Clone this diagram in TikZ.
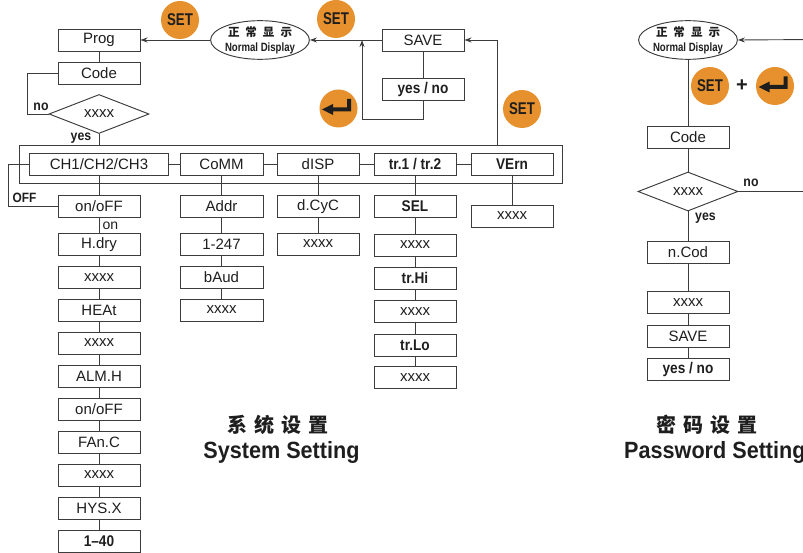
\documentclass[tikz,border=0pt]{standalone}
\usepackage{fontspec}
\setmainfont{Liberation Sans}
\newfontfamily\cjk{Noto Sans CJK SC}
\newfontfamily\cb{Liberation Sans}[FakeStretch=0.88]
\newfontfamily\cbb{Liberation Sans}[FakeStretch=0.78]
\newfontfamily\cbn{Liberation Sans}[FakeStretch=0.8]
\newfontfamily\ttl{Liberation Sans}[FakeStretch=0.92]
\usetikzlibrary{shapes.geometric,arrows.meta}
\definecolor{org}{RGB}{230,145,45}
\definecolor{boxc}{RGB}{60,60,60}
\definecolor{txt}{RGB}{30,30,30}
\begin{document}
\begin{tikzpicture}[x=1pt,y=-1pt,
 box/.style={draw=boxc,line width=0.95pt,minimum width=82pt,minimum height=22pt,inner sep=0pt,text=txt,font=\fontsize{15}{15}\selectfont},
 bbox/.style={box,font=\fontsize{15.5}{15}\selectfont\cb\bfseries},
 conn/.style={draw=boxc,line width=0.9pt},
 arr/.style={conn,-{Stealth[length=7pt,width=5pt]}},
 btn/.style={circle,fill=org,minimum size=38pt,inner sep=0pt,text=txt,font=\fontsize{17}{17}\selectfont\cbb\bfseries},
 lbl/.style={inner sep=0pt,text=txt,font=\fontsize{14}{14}\selectfont\cb\bfseries},
 disp/.style={ellipse,draw=boxc,line width=0.95pt,minimum width=97pt,minimum height=38pt,inner sep=0pt,align=center,text=txt,font=\fontsize{12}{15}\selectfont},
 dec/.style={diamond,aspect=3,draw=boxc,line width=0.95pt,minimum width=100pt,minimum height=39pt,inner sep=0pt,text=txt,font=\fontsize{15}{15}\selectfont},
 ttlc/.style={inner sep=0pt,text=txt,font=\fontsize{20}{20}\selectfont\cjk\bfseries},
 ttle/.style={inner sep=0pt,text=txt,font=\fontsize{23.5}{24}\selectfont\ttl\bfseries},
 enter/.pic={\fill[txt] (-16.5,1) -- (-5.5,-4.5) -- (-5.5,-1) -- (8.5,-1) -- (8.5,-9.5) -- (12.5,-9.5) -- (12.5,3) -- (-5.5,3) -- (-5.5,6.5) -- cycle;}
]
\useasboundingbox (0,0) rectangle (803,553);

% ---------- System setting: top ----------
\node[btn] (set1) at (180,20) {SET};
\node[disp] (nd1) at (260,40) {{\fontsize{11.5}{11.5}\selectfont\cjk\bfseries 正\hspace{6pt}常\hspace{6pt}显\hspace{6pt}示}\\{\cbn\bfseries Normal Display}};
\node[box] (prog) at (99,40) {Prog};
\node[box] (code) at (99,73.5) {Code};
\node[dec] (dia) at (99,114) {xxxx};
\node[lbl] (no1) at (41,107) {no};
\node[lbl] (yes1) at (81,138) {yes};
\node[btn] (set2) at (336,19) {SET};
\node[box] (save) at (423,40) {SAVE};
\node[bbox] (yn) at (423,89.5) {yes / no};
\node[btn] (ent1) at (338.5,108.5) {};
\pic at (ent1) {enter};
\node[btn] (set3) at (522,109) {SET};

% ---------- frame and menu ----------
\node[draw=boxc,line width=0.95pt,minimum width=543pt,minimum height=38pt,inner sep=0pt] (frame) at (290.5,164) {};
\node[box,minimum width=139pt] (ch) at (99,164) {CH1/CH2/CH3};
\node[box,minimum width=83pt] (comm) at (221.5,164) {CoMM};
\node[box] (disp) at (318,164) {dISP};
\node[bbox] (tr) at (415,164) {tr.1 / tr.2};
\node[bbox] (vern) at (512,164) {VErn};

% left column
\node[box] (on1) at (99,206) {on/oFF};
\node[inner sep=0pt,anchor=west,text=txt,font=\fontsize{14}{14}\selectfont] (onl) at (102.5,226) {on};
\node[lbl,font=\fontsize{13.5}{14}\selectfont\cb\bfseries] (offl) at (24.5,198) {OFF};
\node[box] (hdry) at (99,244.5) {H.dry};
\node[box] (xa) at (99,277.5) {xxxx};
\node[box] (heat) at (99,310) {HEAt};
\node[box] (xb) at (99,343) {xxxx};
\node[box] (almh) at (99,376) {ALM.H};
\node[box] (on2) at (99,409) {on/oFF};
\node[box] (fanc) at (99,442) {FAn.C};
\node[box] (xc) at (99,475) {xxxx};
\node[box] (hys) at (99,508) {HYS.X};
\node[bbox] (r140) at (99,541) {1–40};

% CoMM column
\node[box,minimum width=83pt] (addr) at (221.5,206) {Addr};
\node[box,minimum width=83pt] (r1247) at (221.5,244.5) {1-247};
\node[box,minimum width=83pt] (baud) at (221.5,277.5) {bAud};
\node[box,minimum width=83pt] (xd) at (221.5,310) {xxxx};

% dISP column
\node[box] (dcyc) at (318,206.5) {d.CyC};
\node[box] (xe) at (318,244) {xxxx};

% tr column
\node[bbox] (sel) at (415,206.5) {SEL};
\node[box] (xf) at (415,245) {xxxx};
\node[bbox] (trhi) at (415,278) {tr.Hi};
\node[box] (xg) at (415,311.5) {xxxx};
\node[bbox] (trlo) at (415,345) {tr.Lo};
\node[box] (xh) at (415,377.5) {xxxx};

% VErn column
\node[box] (xv) at (512,216) {xxxx};

% titles
\node[ttlc] (t1c) at (278,425) {系\hspace{7pt}统\hspace{7pt}设\hspace{7pt}置};
\node[ttle] (t1e) at (281.5,452.5) {System Setting};

% ---------- Password setting ----------
\node[disp] (nd2) at (688,40) {{\fontsize{11.5}{11.5}\selectfont\cjk\bfseries 正\hspace{6pt}常\hspace{6pt}显\hspace{6pt}示}\\{\cbn\bfseries Normal Display}};
\node[btn] (set4) at (710,86) {SET};
\node[inner sep=0pt,text=txt,font=\fontsize{20}{20}\selectfont\bfseries] (plus) at (742,86) {+};
\node[btn] (ent2) at (775,86) {};
\pic at (ent2) {enter};
\node[box] (code2) at (688,137) {Code};
\node[dec] (dia2) at (688,191.5) {xxxx};
\node[lbl] (no2) at (751,182.5) {no};
\node[lbl] (yes2) at (705.5,218.5) {yes};
\node[box] (ncod) at (688,252) {n.Cod};
\node[box] (xi) at (688,302.5) {xxxx};
\node[box] (save2) at (688,336) {SAVE};
\node[bbox] (yn2) at (688,369) {yes / no};
\node[ttlc] (t2c) at (707,425) {密\hspace{7pt}码\hspace{7pt}设\hspace{7pt}置};
\node[ttle,anchor=west] (t2e) at (624,452.5) {Password Setting};

% ---------- connectors ----------
\draw[arr] (nd1.west) -- (prog.east);
\draw[arr] (save.west) -- (nd1.east);
\draw[conn] (save) -- (yn);
\coordinate (lb) at (362,119);
\draw[arr] (yn.south) |- (lb) -- (lb |- save.west);
\coordinate (vt) at (497,145);
\draw[arr] (vt) |- (save.east);
\draw[conn] (prog) -- (code);
\draw[conn] (code.west) -- ++(-30,0) |- (dia.west);
\draw[conn] (dia.south) -- (dia.south |- frame.north);
\draw[conn] (ch) -- (comm);
\draw[conn] (comm) -- (disp);
\draw[conn] (disp) -- (tr);
\draw[conn] (tr) -- (vern);
\draw[conn] (ch.west) -- ++(-21,0) |- (on1.west);
\draw[conn] (ch) -- (on1) -- (hdry) -- (xa) -- (heat) -- (xb) -- (almh) -- (on2) -- (fanc) -- (xc) -- (hys) -- (r140);
\draw[conn] (comm) -- (addr) -- (r1247) -- (baud) -- (xd);
\draw[conn] (disp) -- (dcyc) -- (xe);
\draw[conn] (tr) -- (sel) -- (xf) -- (trhi) -- (xg) -- (trlo) -- (xh);
\draw[conn] (vern) -- (xv);

\coordinate (r1) at (815,39.5);
\draw[arr] (r1) -- (nd2.east);
\draw[conn] (nd2) -- (code2) -- (dia2) -- (ncod) -- (xi) -- (save2) -- (yn2);
\coordinate (r2) at (815,191.5);
\draw[conn] (dia2.east) -- (r2);
\end{tikzpicture}
\end{document}
